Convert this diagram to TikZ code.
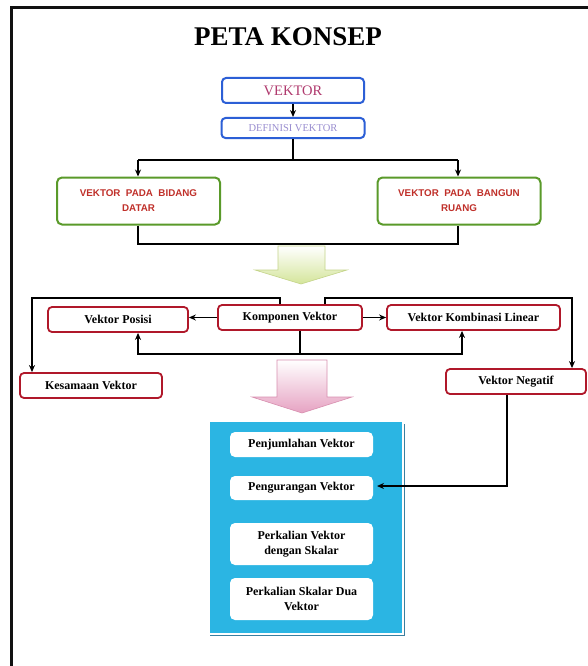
\documentclass[tikz,border=0pt]{standalone}
\usepackage{fontspec}
\setmainfont{Liberation Serif}
\newfontfamily\sansb{Liberation Sans}
\usetikzlibrary{arrows.meta}
\definecolor{frameblk}{HTML}{111111}
\definecolor{vblue}{HTML}{2C5FD6}
\definecolor{vpink}{HTML}{B03A6E}
\definecolor{vlav}{HTML}{9A8ED0}
\definecolor{vgreen}{HTML}{5A9A2A}
\definecolor{vred}{HTML}{B0182A}
\definecolor{vtxtred}{HTML}{C0302A}
\definecolor{panel}{HTML}{2BB5E3}
\definecolor{paneledge}{HTML}{3A7FA0}
\definecolor{garrow}{HTML}{D4E59A}
\definecolor{garrowedge}{HTML}{C4D48A}
\definecolor{parrow}{HTML}{E6A2C2}
\definecolor{parrowedge}{HTML}{D890B0}
\tikzset{
  bluebox/.style={draw=vblue, line width=2pt, rounded corners=4pt, fill=white, inner sep=0pt},
  greenbox/.style={draw=vgreen, line width=2pt, rounded corners=5pt, fill=white, inner sep=0pt,
     minimum width=163pt, minimum height=47pt, align=center, text=vtxtred, font=\sansb\bfseries\fontsize{9.8}{15}\selectfont},
  redbox/.style={draw=vred, line width=1.8pt, rounded corners=4pt, fill=white, inner sep=0pt,
     minimum height=25pt, font=\bfseries\fontsize{12}{14}\selectfont},
  whitebox/.style={fill=white, rounded corners=5pt, inner sep=0pt, minimum width=143pt,
     align=center, font=\bfseries\fontsize{12}{15}\selectfont},
  conn/.style={draw=black, line width=1.5pt, arrows={-}, >={Stealth[length=7pt,width=6pt]}},
}
\begin{document}
\begin{tikzpicture}[x=1pt,y=-1pt]
\useasboundingbox (0,0) rectangle (588,666);
\fill[white] (0,0) rectangle (588,666);
% frame
\draw[frameblk, line width=3pt] (10,8) -- (588,8);
\draw[frameblk, line width=3pt] (11,8) -- (11,666);

% title
\node (title) at (288,37) {\bfseries\fontsize{27}{30}\selectfont PETA KONSEP};

% top boxes
\node[bluebox, minimum width=142pt, minimum height=25pt, text=vpink, font=\fontsize{14.5}{16}\selectfont] (vek) at (293,90.5) {VEKTOR};
\node[bluebox, minimum width=143pt, minimum height=20pt, text=vlav, font=\fontsize{10.5}{12}\selectfont] (def) at (293,128) {DEFINISI VEKTOR};
\draw[conn,->] (vek) -- (def);

\node[greenbox] (bid) at (138.5,201) {VEKTOR\ \ PADA\ \ BIDANG\\DATAR};
\node[greenbox] (rua) at (459,201) {VEKTOR\ \ PADA\ \ BANGUN\\RUANG};

\coordinate (j1) at (293,160);
\coordinate (jl) at (138,160);
\coordinate (jr) at (458,160);
\draw[conn] (def.south) -- (j1);
\draw[conn,->] (jl) -- (bid.north -| jl);
\draw[conn,->] (jr) -- (rua.north -| jr);
\draw[conn] (jl) -- (jr);

\coordinate (bl) at (138,244);
\coordinate (br) at (458,244);
\draw[conn] (bid.south -| bl) -- (bl) -- (br) -- (rua.south -| br);

% green block arrow
\shade[top color=white, bottom color=garrow, draw=garrowedge, line width=0.6pt]
  (278,246) -- (325,246) -- (325,270) -- (347,270) -- (301,284) -- (255,270) -- (278,270) -- cycle;

% middle row
\node[redbox, minimum width=144pt] (kom) at (290,317.5) {Komponen Vektor};
\node[redbox, minimum width=140pt] (pos) at (118,319.5) {Vektor Posisi};
\node[redbox, minimum width=173pt] (lin) at (473.5,317.5) {Vektor Kombinasi Linear};
\node[redbox, minimum width=142pt] (kes) at (91,385.5) {Kesamaan Vektor};
\node[redbox, minimum width=140pt] (neg) at (516,381.5) {Vektor Negatif};

\draw[conn,->] (kom.west) -- (kom.west -| pos.east);
\draw[conn,->] (kom.east) -- (kom.east -| lin.west);

\coordinate (ka) at (280,298);
\coordinate (kb) at (325,298);
\coordinate (tl) at (32,298);
\coordinate (tr) at (572,298);
\draw[conn,->] (kom.north -| ka) -- (ka) -- (tl) -- (kes.north -| tl);
\draw[conn,->] (kom.north -| kb) -- (kb) -- (tr) -- (neg.north -| tr);

\coordinate (m) at (300,354);
\coordinate (ml) at (138,354);
\coordinate (mr) at (462,354);
\draw[conn] (kom.south -| m) -- (m);
\draw[conn,<->] (pos.south -| ml) -- (ml) -- (mr) -- (lin.south -| mr);

% pink block arrow
\shade[top color=white, bottom color=parrow, draw=parrowedge, line width=0.6pt]
  (277,360) -- (327,360) -- (327,397) -- (352,397) -- (302,413) -- (252,397) -- (277,397) -- cycle;

% blue panel
\draw[paneledge, line width=0.8pt] (404,424) -- (404,635) -- (210,635);
\fill[panel] (210,422) rectangle (402,633);

\node[whitebox, minimum height=25pt] (jum) at (301.5,444.5) {Penjumlahan Vektor};
\node[whitebox, minimum height=24pt] (kur) at (301.5,488) {Pengurangan Vektor};
\node[whitebox, minimum height=42pt] (kal) at (301.5,544) {Perkalian Vektor\\dengan Skalar};
\node[whitebox, minimum height=42pt] (dua) at (301.5,599) {Perkalian Skalar Dua\\Vektor};

\coordinate (n1) at (507,486);
\coordinate (ntip) at (377,486);
\draw[conn,->] (neg.south -| n1) -- (n1) -- (ntip);
\end{tikzpicture}
\end{document}
